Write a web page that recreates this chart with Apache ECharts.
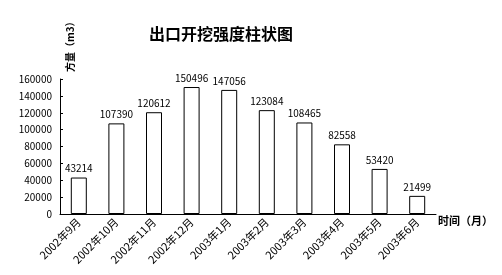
<!DOCTYPE html>
<html><head><meta charset="utf-8">
<script src="https://cdn.jsdelivr.net/npm/echarts@6/dist/echarts.min.js"></script>
<style>html,body{margin:0;padding:0;background:#fff}#c{width:502px;height:275px}</style>
</head><body><div id="c"></div>
<script>
const categories = ['2002年9月','2002年10月','2002年11月','2002年12月','2003年1月','2003年2月','2003年3月','2003年4月','2003年5月','2003年6月'];
const values = [43214,107390,120612,150496,147056,123084,108465,82558,53420,21499];
const yTicks = {min:0, max:160000, interval:20000};
const titleText = '出口开挖强度柱状图';
const yName = '方量（m3）';
const xName = '时间（月）';

const font = '"Noto Sans CJK SC", sans-serif';
const chart = echarts.init(document.getElementById('c'), null, {renderer:'canvas'});
chart.setOption({
  animation:false,
  backgroundColor:'#fff',
  title:{text:titleText, left:216, top:21, textAlign:'center',
    textStyle:{fontFamily:font, fontSize:16, fontWeight:'bold', color:'#000'}},
  grid:{left:60, right:66, top:79, bottom:61, containLabel:false},
  graphic:[{type:'text', x:70, y:72, rotation:Math.PI/2,
    style:{text:yName, fontFamily:font, fontSize:10, fontWeight:'bold', fill:'#000', align:'left', verticalAlign:'middle'}}],
  xAxis:{type:'category', data:categories,
    name:xName, nameLocation:'end', nameGap:2,
    nameTextStyle:{fontFamily:font, fontSize:11, fontWeight:'bold', color:'#000', verticalAlign:'top', padding:[1,0,0,0]},
    axisLine:{lineStyle:{color:'#000', width:1}},
    axisTick:{inside:true, length:3, lineStyle:{color:'#000'}},
    axisLabel:{rotate:45, interval:0, fontFamily:font, fontSize:11, color:'#000', margin:6},
    splitLine:{show:false}},
  yAxis:{type:'value', min:yTicks.min, max:yTicks.max, interval:yTicks.interval,
    axisLine:{show:true, lineStyle:{color:'#000', width:1}},
    axisTick:{show:true, inside:true, length:3, lineStyle:{color:'#000'}},
    axisLabel:{fontFamily:font, fontSize:10, color:'#000', margin:8, formatter:function(v){return String(v);}},
    splitLine:{show:false}},
  series:[{type:'bar', data:values, barWidth:16,
    itemStyle:{color:'#fff', borderColor:'#000', borderWidth:1},
    label:{show:true, position:'top', distance:4, fontFamily:font, fontSize:10, color:'#000'}}]
});
</script></body></html>
